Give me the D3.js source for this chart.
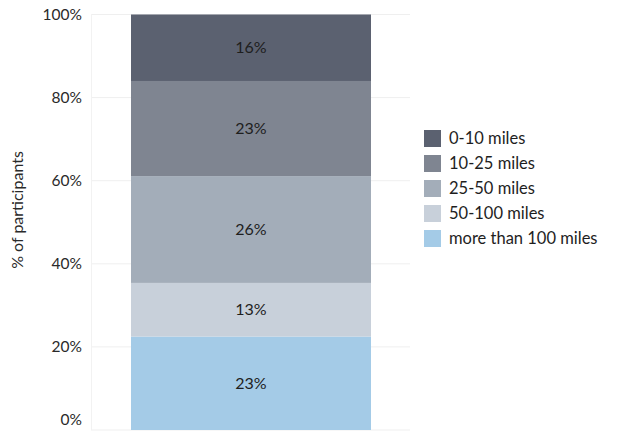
<!DOCTYPE html>
<html><head><meta charset="utf-8">
<script src="https://cdn.jsdelivr.net/npm/d3@7"></script>
<style>body{margin:0;background:#fff;} text{font-family:Lato,"Open Sans",sans-serif;}</style>
</head><body><svg id="c" width="617" height="432"></svg>
<script>
const categories = ["more than 100 miles","50-100 miles","25-50 miles","10-25 miles","0-10 miles"];
const values = [22.5, 12.9, 25.7, 22.9, 16.0];
const colors = ["#a4cbe7","#c8d0da","#a3adb9","#7f8591","#5b6170"];
const legendOrder = ["0-10 miles","10-25 miles","25-50 miles","50-100 miles","more than 100 miles"];
const yTicks = [0,20,40,60,80,100];

const svg = d3.select("#c");
const y = d3.scaleLinear().domain([0,100]).range([430,14.5]);

// gridlines
svg.append("g").selectAll("line").data(yTicks).join("line")
  .attr("x1",91).attr("x2",410).attr("y1",d=>y(d)).attr("y2",d=>y(d))
  .attr("stroke","#efefef").attr("stroke-width",1);
svg.append("line").attr("x1",91.5).attr("x2",91.5).attr("y1",14).attr("y2",430)
  .attr("stroke","#f2f2f2");

// tick labels (bottom one lifted to stay inside the frame)
svg.append("g").selectAll("text").data(yTicks).join("text")
  .attr("x",82).attr("y",d=>Math.min(y(d),420)).attr("dy","0.35em").attr("text-anchor","end")
  .attr("font-size",15.5).attr("fill","#2a2a2a").text(d=>d+"%");

svg.append("text").attr("transform","translate(23,210) rotate(-90)")
  .attr("text-anchor","middle").attr("font-size",16).attr("fill","#2a2a2a")
  .text("% of participants");

// stacked bar
let cum = 0;
const segs = values.map((v,i)=>{const s={cat:categories[i],v,y0:cum,y1:cum+v,color:colors[i]};cum+=v;return s;});
const bx = 131, bw = 240;
svg.append("g").selectAll("rect").data(segs).join("rect")
  .attr("x",bx).attr("width",bw)
  .attr("y",d=>y(d.y1)).attr("height",d=>y(d.y0)-y(d.y1))
  .attr("fill",d=>d.color);
svg.append("g").selectAll("text").data(segs).join("text")
  .attr("x",bx+bw/2).attr("y",d=>y((d.y0+d.y1)/2)).attr("dy","0.35em")
  .attr("text-anchor","middle").attr("font-size",16).attr("fill","#1e1e1e")
  .text(d=>Math.round(d.v)+"%");

// legend
const lg = svg.append("g").attr("transform","translate(424,130)");
const row = lg.selectAll("g").data(legendOrder).join("g")
  .attr("transform",(d,i)=>`translate(0,${i*25})`);
row.append("rect").attr("width",17).attr("height",17)
  .attr("fill",d=>colors[categories.indexOf(d)]);
row.append("text").attr("x",25).attr("y",8.5).attr("dy","0.35em")
  .attr("font-size",16.5).attr("fill","#1e1e1e").text(d=>d);
</script></body></html>
